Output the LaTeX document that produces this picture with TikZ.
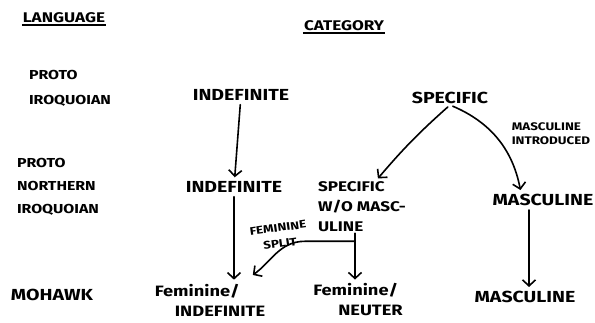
\documentclass[tikz,border=0pt]{standalone}
\usepackage{fontspec}
\setmainfont{Fira Sans}[FakeStretch=1.22]
\usetikzlibrary{arrows.meta}
\begin{document}
\begin{tikzpicture}[x=1pt,y=-1pt,
  lab/.style={font=\bfseries\fontsize{16}{22}\selectfont, inner sep=1pt, align=left},
  sml/.style={font=\bfseries\fontsize{12}{14}\selectfont, inner sep=1pt, align=left},
  arr/.style={line width=1.6pt, line cap=round, shorten >=3pt, shorten <=3pt,
    -{Straight Barb[length=6pt,width=13pt,line width=1.6pt]}},
  ln/.style={line width=1.6pt, line cap=round}]
\useasboundingbox (0,0) rectangle (595,323);
% headings
\node[lab, font=\bfseries\fontsize{14}{16}\selectfont] (lang) at (64,18) {LANGUAGE};
\draw[line width=2pt] ([yshift=-1pt]lang.south west) -- ([yshift=-1pt]lang.south east);
\node[lab, font=\bfseries\fontsize{14}{16}\selectfont] (cat) at (344,26) {CATEGORY};
\draw[line width=2pt] ([yshift=-1pt]cat.south west) -- ([yshift=-1pt]cat.south east);
% languages
\node[lab, font=\bfseries\fontsize{13}{25}\selectfont] (pi) at (70,88) {PROTO\\IROQUOIAN};
\node[lab, font=\bfseries\fontsize{13}{23}\selectfont] (pni) at (58,187) {PROTO\\NORTHERN\\IROQUOIAN};
\node[lab] (mo) at (52,295) {MOHAWK};
% categories
\node[lab] (it) at (241,95) {INDEFINITE};
\node[lab] (sp) at (450,98) {SPECIFIC};
\node[sml, font=\bfseries\fontsize{11}{14}\selectfont] (mi) at (551,134) {MASCULINE\\INTRODUCED};
\node[lab] (im) at (234,187) {INDEFINITE};
\node[lab, font=\bfseries\fontsize{14}{20}\selectfont] (sw) at (362,207) {SPECIFIC\\W/O MASC-\\ULINE};
\node[lab] (mm) at (543,200) {MASCULINE};
\node[sml, align=center, rotate=8, font=\bfseries\fontsize{11}{16}\selectfont] (fs) at (279,236) {FEMININE\\SPLIT};
\node[lab, font=\bfseries\fontsize{15}{20}\selectfont] (fi) at (210,300) {Feminine/\\\hspace{20pt}INDEFINITE};
\node[lab, font=\bfseries\fontsize{15}{20}\selectfont] (fn) at (358,300) {Feminine/\\\hspace{25pt}NEUTER};
\node[lab] (mb) at (525,297) {MASCULINE};
% connectors
\draw[arr] (it) -- (im);
\draw[arr] (sp.south) to[bend right=4] ([xshift=14pt]sw.north);
\draw[arr] (sp.south) to[bend left=28] ([xshift=-22pt]mm.north);
\draw[arr] ([xshift=-14pt]mm.south) -- ([xshift=-14pt]mm.south |- mb.north);
\draw[arr] (im) -- (im |- fi.north);
\coordinate (j) at ([xshift=-7pt,yshift=-8pt]sw.south);
\draw[ln] ([xshift=-7pt]sw.south) -- (j);
\draw[arr, shorten <=0pt] (j) -- (j |- fn.north);
\draw[arr, shorten <=0pt] (j) -- ++(-50,0) to[out=180,in=35] ([xshift=-16pt,yshift=6pt]fi.north east);
\end{tikzpicture}
\end{document}
